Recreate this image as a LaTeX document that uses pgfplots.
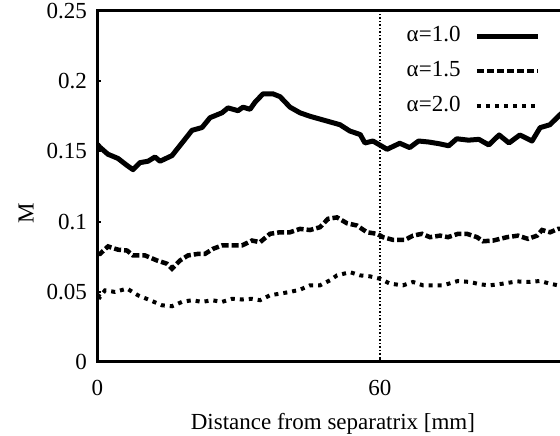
\documentclass[border=0pt]{standalone}
\usepackage{fontspec}
\setmainfont{Liberation Serif}
\usepackage{pgfplots}
\pgfplotsset{compat=1.18}
\newcommand{\bigf}{\fontsize{23}{27}\selectfont}
\begin{document}
\begin{tikzpicture}
\begin{axis}[
  scale only axis, width=470.83pt, height=351pt,
  xmin=0, xmax=100, ymin=0, ymax=0.25,
  xtick={0,60}, xticklabels={0,60},
  ytick={0,0.05,0.1,0.15,0.2,0.25},
  yticklabels={0,0.05,0.1,0.15,0.2,0.25},
  xtick pos=bottom, ytick pos=left,
  tick align=inside,
  major tick length=4pt,
  every tick/.style={line width=2pt, black},
  axis line style={line width=3pt},
  tick label style={font=\bigf},
  xticklabel style={yshift=-15pt},
  yticklabel style={xshift=-7pt},
  label style={font=\bigf},
  xlabel={Distance from separatrix [mm]},
  xlabel style={at={(axis description cs:0.5,0)}, anchor=center, yshift=-62pt},
  ylabel={M},
  ylabel style={at={(axis description cs:-0.1515,0.4245)}, anchor=center},
  legend style={draw=none, fill=none, at={(axis cs:64.36,0.2433)}, anchor=north west,
    font=\bigf, row sep=8pt, column sep=11pt,
    nodes={inner sep=3pt, text height=16pt, text depth=5pt}},
  legend cell align=left,
  legend plot pos=right,
  legend image code/.code={\draw[#1] (0pt,0pt) -- (61pt,0pt);},
]
\addplot[black, line width=5pt, line join=round] coordinates {
(0,0.155) (0.5,0.153) (2.2,0.148) (4.35,0.145) (6.27,0.140) (7.54,0.137) (9.03,0.142) (10.73,0.143) (12.21,0.146) (13.28,0.143) (15.82,0.147) (17.95,0.156) (20.07,0.165) (22.2,0.167) (23.9,0.174) (26.44,0.1775) (27.72,0.181) (29.84,0.179) (30.9,0.1815) (32.4,0.180) (33.45,0.185) (35.15,0.191) (37.27,0.191) (38.76,0.189) (40.89,0.1815) (43.01,0.1775) (45.14,0.175) (48.75,0.1716) (51.5,0.169) (53.6,0.1645) (55.8,0.162) (56.8,0.156) (58.5,0.1574) (61.5,0.1515) (64.2,0.1558) (66.3,0.1527) (68.2,0.1574) (70.3,0.1567) (72.5,0.1555) (74.6,0.154) (76.3,0.159) (78.8,0.158) (81.0,0.1586) (83.1,0.1546) (85.3,0.1617) (87.4,0.156) (89.7,0.1617) (92.3,0.1574) (94.0,0.1669) (96.1,0.169) (98.2,0.176) (99.5,0.18)
};
\addlegendentry{α=1.0}
\addplot[black, line width=4.5pt, dash pattern=on 7pt off 3pt] coordinates {
(0,0.077) (0.53,0.077) (2.23,0.0823) (4.35,0.080) (6.27,0.0794) (7.54,0.0759) (10.09,0.0759) (12.64,0.0723) (14.76,0.070) (15.82,0.0665) (17.52,0.0723) (19.22,0.0759) (21.35,0.077) (22.83,0.077) (24.53,0.0806) (26.44,0.083) (28.57,0.083) (30.69,0.083) (32.82,0.0865) (34.52,0.0853) (36.64,0.0913) (38.76,0.0924) (40.89,0.0924) (43.01,0.0948) (45.14,0.094) (47.26,0.096) (48.96,0.102) (50.87,0.103) (52.99,0.0988) (55.12,0.0972) (57.24,0.0924) (59.37,0.0913) (60.64,0.0889) (62.76,0.087) (65.31,0.087) (67.01,0.090) (68.92,0.0913) (70.62,0.0889) (72.75,0.090) (74.45,0.0889) (76.57,0.0913) (78.48,0.0913) (80.61,0.0889) (81.88,0.086) (84.01,0.0865) (86.98,0.0889) (89.32,0.090) (91.44,0.0877) (93.36,0.090) (94.42,0.094) (96.12,0.0924) (97.82,0.0948) (99.5,0.095)
};
\addlegendentry{α=1.5}
\addplot[black, line width=4pt, dash pattern=on 4pt off 5pt] coordinates {
(0,0.048) (0.53,0.0463) (1.59,0.051) (3.72,0.0499) (6.27,0.0523) (8.6,0.0475) (11.15,0.044) (13.7,0.0404) (15.82,0.0397) (17.95,0.0428) (20.07,0.044) (22.2,0.0428) (24.32,0.044) (26.44,0.0428) (28.57,0.045) (30.69,0.0445) (32.82,0.045) (34.52,0.044) (36.64,0.0475) (38.76,0.0487) (40.89,0.0499) (43.01,0.0515) (45.14,0.0546) (47.26,0.0546) (49.38,0.0582) (50.87,0.0617) (53.63,0.064) (55.75,0.0617) (57.87,0.061) (60.0,0.0593) (62.12,0.0558) (64.88,0.0546) (67.01,0.057) (69.13,0.0546) (71.26,0.0546) (73.38,0.0546) (76.57,0.0577) (79.12,0.057) (81.24,0.0553) (83.36,0.0546) (86.12,0.0558) (89.1,0.0574) (91.86,0.057) (93.98,0.0577) (96.1,0.0558) (97.8,0.0546) (99.5,0.055)
};
\addlegendentry{α=2.0}
\addplot[black, line width=1.5pt, dash pattern=on 1.5pt off 2pt, forget plot] coordinates {(60,0) (60,0.25)};
\end{axis}
\pgfresetboundingbox
\useasboundingbox (-97.5pt,-74pt) rectangle (462.5pt,362pt);
\end{tikzpicture}
\end{document}
